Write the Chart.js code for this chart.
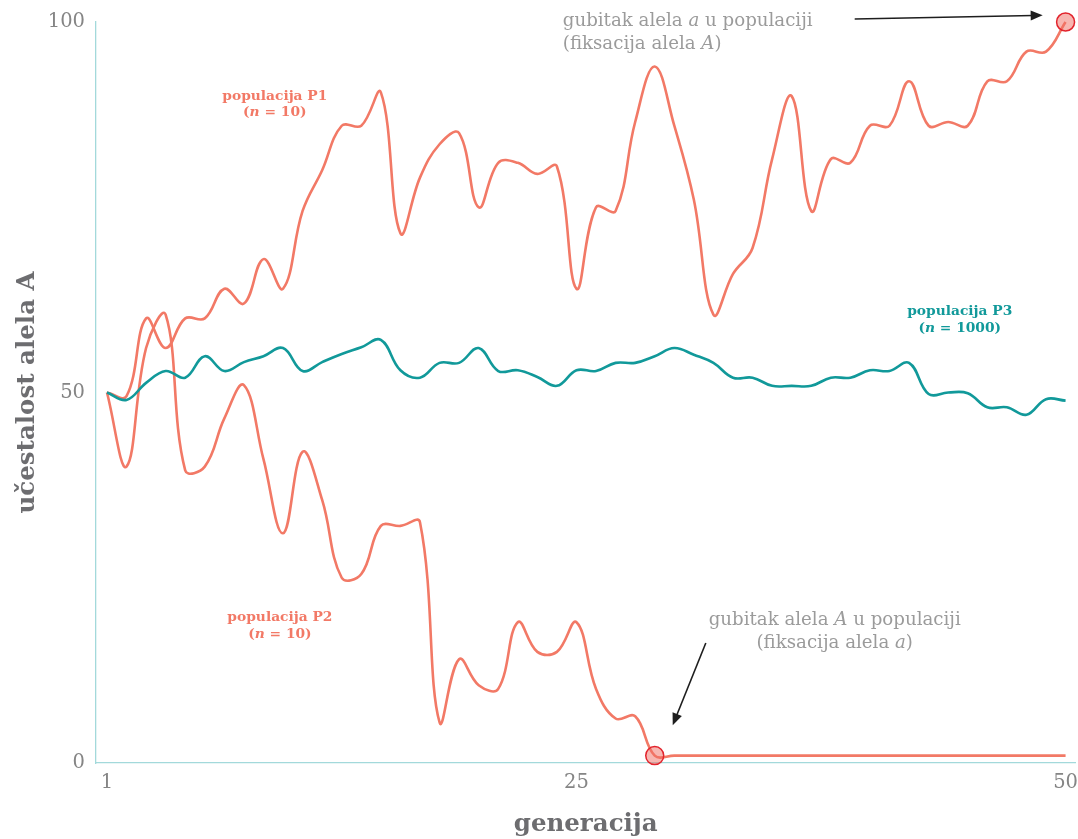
<!DOCTYPE html>
<html>
<head>
<meta charset="utf-8">
<script src="https://cdn.jsdelivr.net/npm/chart.js@4.4.1/dist/chart.umd.min.js"></script>
<style>
html,body{margin:0;padding:0;background:#ffffff;}
#wrap{width:1078px;height:839px;position:relative;}
</style>
</head>
<body>
<div id="wrap"><canvas id="c" width="1078" height="839"></canvas></div>
<script>
// ---- data ----
const generations = [1,2,3,4,5,6,7,8,9,10,11,12,13,14,15,16,17,18,19,20,21,22,23,24,25,26,27,28,29,30,31,32,33,34,35,36,37,38,39,40,41,42,43,44,45,46,47,48,49,50];
const p1Values = [50,49.5,60,56,60,60,64,62,68,64,74.5,80,86,86,90.5,71.5,79,83.5,85,75,81,81,79.5,80.5,64,75,74.5,86.5,94,86,76,60.5,66,69.5,81.5,90,74.5,81.5,81,86,86,92,86,86.5,86,92,92,96,96,100];
const p2Values = [50,40,56,60.5,39.5,40,46.5,51,41,31,42,35.5,25,25.5,32,32,32.5,5.5,14,10.5,10,19,15,15,19,10,6,6.3,1,1,1,1,1,1,1,1,1,1,1,1,1,1,1,1,1,1,1,1,1,1];
const p3Values = [50,49,51.3,52.9,52,54.9,52.9,54.1,54.9,56,52.9,54.1,55.2,56.1,57.1,53,52,54,54,56,52.9,53,52.1,50.9,53,52.9,54,54,54.9,56,55.1,54,52,52,50.9,50.9,50.9,52,52,53,52.9,54,49.8,50,49.9,48,48,47,49.1,48.9];
const fixationGenerations = [29, 50];
const fixationValues = [1, 100];
const xTickValues = [1, 25, 50];
const yTickValues = [0, 50, 100];
const yAxisTitle = 'učestalost alela A';
const xAxisTitle = 'generacija';

// ---- styles ----
const SALMON = '#f27966';
const TEAL = '#11999a';
const AXIS = '#a3d9db';
const SERIF = '"DejaVu Serif", serif';

const toXY = (vals) => generations.map((g, i) => ({x: g, y: vals[i]}));
const markers = fixationGenerations.map((g, i) => ({x: g, y: fixationValues[i]}));

// annotation layout (in data coordinates)
const textNotes = [
  {x: 9.58, y: 89.9, align: 'center', color: SALMON, weight: 'bold', size: 13.8, gap: 16,
   lines: [[['populacija P1', false]], [['(', false], ['n', true], [' = 10)', false]]]},
  {x: 9.84, y: 19.7, align: 'center', color: SALMON, weight: 'bold', size: 13.8, gap: 17,
   lines: [[['populacija P2', false]], [['(', false], ['n', true], [' = 10)', false]]]},
  {x: 44.59, y: 61.0, align: 'center', color: TEAL, weight: 'bold', size: 13.8, gap: 17,
   lines: [[['populacija P3', false]], [['(', false], ['n', true], [' = 1000)', false]]]},
  {x: 24.3, y: 100.1, align: 'left', color: '#9b9b9b', weight: 'normal', size: 18.2, gap: 23,
   lines: [[['gubitak alela ', false], ['a', true], [' u populaciji', false]], [['(fiksacija alela ', false], ['A', true], [')', false]]]},
  {x: 38.2, y: 19.2, align: 'center', color: '#9b9b9b', weight: 'normal', size: 18.2, gap: 23,
   lines: [[['gubitak alela ', false], ['A', true], [' u populaciji', false]], [['(fiksacija alela ', false], ['a', true], [')', false]]]}
];
const arrows = [
  {from: [39.22, 100.4], to: [48.83, 100.9]},
  {from: [31.61, 16.2], to: [29.92, 5.1]}
];

const notesPlugin = {
  id: 'notes',
  afterDatasetsDraw(chart) {
    const {ctx, scales: {x, y}} = chart;
    ctx.save();
    ctx.textBaseline = 'middle';
    textNotes.forEach(n => {
      const px = x.getPixelForValue(n.x);
      const py = y.getPixelForValue(n.y);
      n.lines.forEach((segs, li) => {
        const widths = segs.map(([t, it]) => {
          ctx.font = (it ? 'italic ' : '') + n.weight + ' ' + n.size + 'px ' + SERIF;
          return ctx.measureText(t).width;
        });
        const total = widths.reduce((a, b) => a + b, 0);
        let cx = n.align === 'center' ? px - total / 2 : px;
        segs.forEach(([t, it], si) => {
          ctx.font = (it ? 'italic ' : '') + n.weight + ' ' + n.size + 'px ' + SERIF;
          ctx.fillStyle = n.color;
          ctx.textAlign = 'left';
          ctx.fillText(t, cx, py + li * n.gap);
          cx += widths[si];
        });
      });
    });
    arrows.forEach(a => {
      const x0 = x.getPixelForValue(a.from[0]), y0 = y.getPixelForValue(a.from[1]);
      const x1 = x.getPixelForValue(a.to[0]), y1 = y.getPixelForValue(a.to[1]);
      const ang = Math.atan2(y1 - y0, x1 - x0);
      const head = 12, hw = 5;
      ctx.strokeStyle = '#1e1e1e';
      ctx.fillStyle = '#1e1e1e';
      ctx.lineWidth = 1.6;
      ctx.beginPath();
      ctx.moveTo(x0, y0);
      ctx.lineTo(x1 - Math.cos(ang) * head * 0.8, y1 - Math.sin(ang) * head * 0.8);
      ctx.stroke();
      ctx.beginPath();
      ctx.moveTo(x1, y1);
      ctx.lineTo(x1 - Math.cos(ang) * head - Math.sin(ang) * hw, y1 - Math.sin(ang) * head + Math.cos(ang) * hw);
      ctx.lineTo(x1 - Math.cos(ang) * head + Math.sin(ang) * hw, y1 - Math.sin(ang) * head - Math.cos(ang) * hw);
      ctx.closePath();
      ctx.fill();
    });
    ctx.restore();
  }
};

const lineDs = (label, vals, color) => ({
  label, data: toXY(vals), borderColor: color, backgroundColor: color,
  borderWidth: 2.6, pointRadius: 0, pointHoverRadius: 0, tension: 0.4,
  fill: false, clip: false, order: 1
});

new Chart(document.getElementById('c'), {
  type: 'line',
  data: {
    datasets: [
      {label: 'fiksacija', data: markers, showLine: false, pointRadius: 9, pointHoverRadius: 9,
       pointBackgroundColor: 'rgba(240,110,100,0.5)', pointBorderColor: '#e2232c', pointBorderWidth: 1.5,
       clip: false, order: 0},
      lineDs('populacija P3', p3Values, TEAL),
      lineDs('populacija P2', p2Values, SALMON),
      lineDs('populacija P1', p1Values, SALMON)
    ]
  },
  options: {
    responsive: false,
    animation: false,
    devicePixelRatio: 1,
    layout: {autoPadding: false, padding: {left: 0, right: 2, top: 22, bottom: 0}},
    plugins: {legend: {display: false}, tooltip: {enabled: false}},
    scales: {
      x: {
        type: 'linear', min: 0.44, max: 50.5,
        afterBuildTicks: s => { s.ticks = xTickValues.map(v => ({value: v})); },
        afterFit: s => { s.height = 76; },
        grid: {display: false, drawTicks: true, tickLength: 8},
        border: {display: true, color: AXIS, width: 1.3},
        ticks: {color: '#858585', font: {family: SERIF, size: 19.5}, padding: 0, maxRotation: 0},
        title: {display: true, text: xAxisTitle, color: '#6d6d70', font: {family: SERIF, size: 24.5, weight: 'bold'}, padding: {top: 0, bottom: 0}}
      },
      y: {
        type: 'linear', min: 0, max: 100,
        afterBuildTicks: s => { s.ticks = yTickValues.map(v => ({value: v})); },
        afterFit: s => { s.width = 96; },
        grid: {display: false, drawTicks: true, tickLength: 11},
        border: {display: true, color: AXIS, width: 1.3},
        ticks: {color: '#858585', font: {family: SERIF, size: 19.5}, padding: 0},
        title: {display: true, text: yAxisTitle, color: '#6d6d70', font: {family: SERIF, size: 24.5, weight: 'bold'}, padding: {top: 13, bottom: 0}}
      }
    }
  },
  plugins: [notesPlugin]
});
</script>
</body>
</html>
